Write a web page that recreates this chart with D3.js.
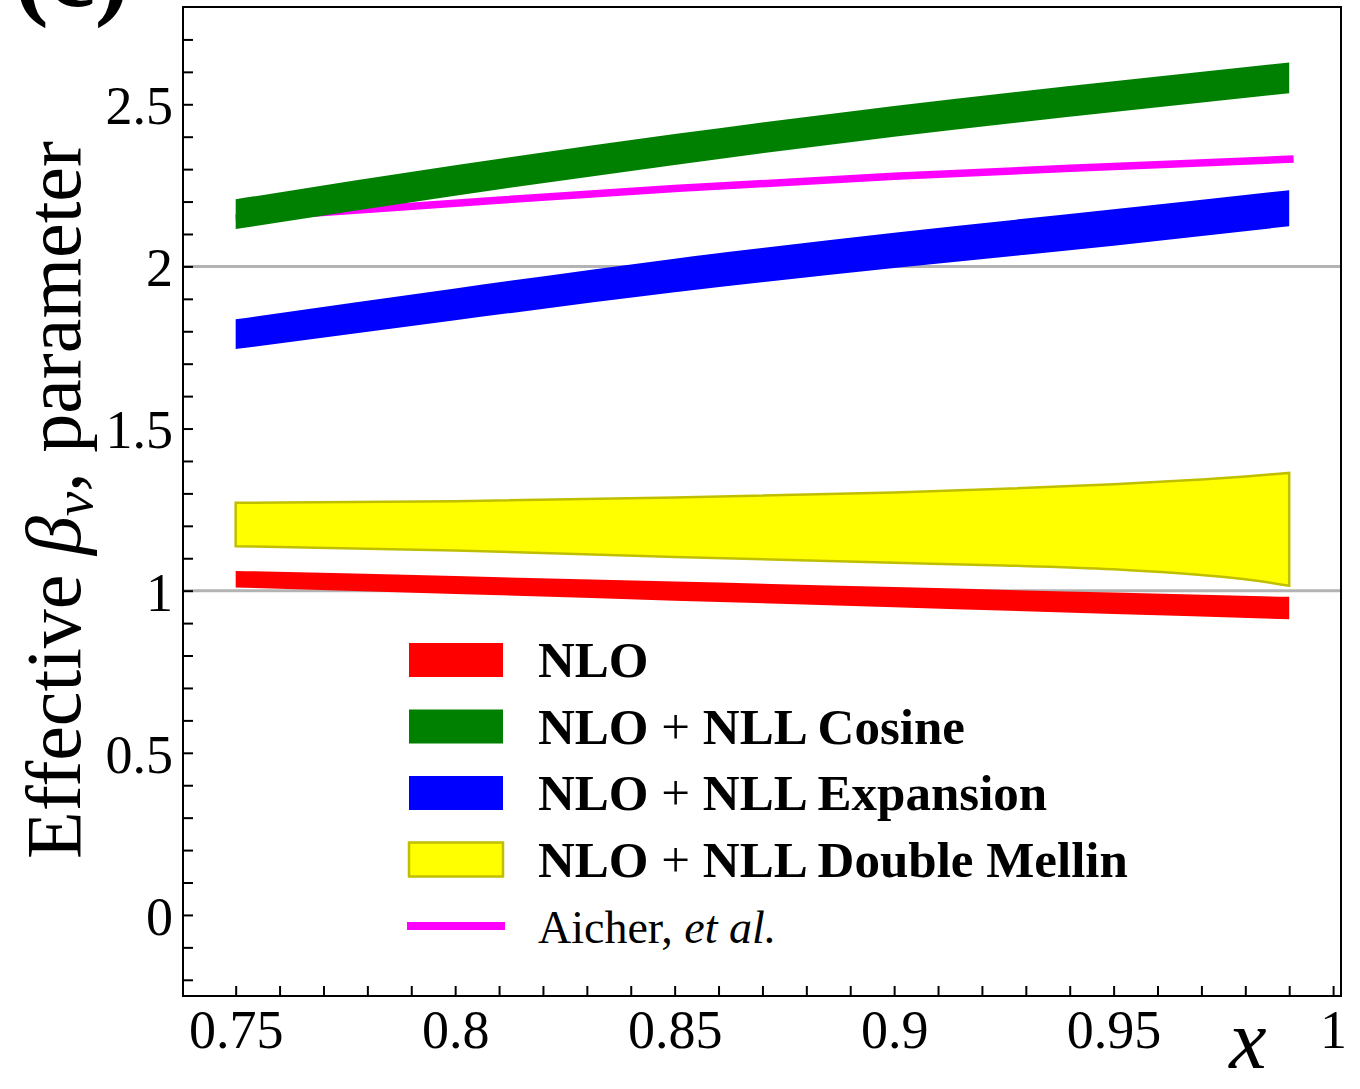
<!doctype html>
<html>
<head>
<meta charset="utf-8">
<style>
  body { margin: 0; background: #fff; }
  text { font-family: "Liberation Serif", "Times New Roman", serif; }
  .tick-label text { font-size: 54px; fill: #000; }
  .legend text { font-size: 51px; font-weight: bold; }
</style>
<script src="https://d3js.org/d3.v7.min.js"></script>
</head>
<body>
<svg id="svg" width="1360" height="1089"></svg>
<script>
// band x grid and bounds
var xBand = [0.75, 0.8, 0.85, 0.9, 0.95, 0.99];
var nloLo = [1.010, 0.990, 0.969, 0.949, 0.928, 0.912];
var nloHi = [1.061, 1.045, 1.028, 1.011, 0.994, 0.981];
var cosLo = [2.115, 2.218, 2.313, 2.400, 2.476, 2.534];
var cosHi = [2.207, 2.312, 2.408, 2.495, 2.571, 2.629];
var expLo = [1.745, 1.834, 1.920, 1.995, 2.064, 2.124];
var expHi = [1.837, 1.932, 2.024, 2.104, 2.176, 2.235];

var xMellin = [0.75, 0.8, 0.85, 0.9, 0.925, 0.95, 0.97, 0.98, 0.99];
var melLo = [1.137, 1.124, 1.104, 1.086, 1.078, 1.066, 1.048, 1.035, 1.015];
var melHi = [1.271, 1.276, 1.287, 1.303, 1.314, 1.328, 1.343, 1.352, 1.363];

var xAicher = [0.75, 0.8, 0.85, 0.9, 0.95, 0.991];
var aicher = [2.148, 2.195, 2.240, 2.278, 2.308, 2.331];

var refLines = [1, 2];

var xTicks = [0.75, 0.8, 0.85, 0.9, 0.95, 1];
var xTickLabels = ["0.75", "0.8", "0.85", "0.9", "0.95", "1"];
var yTicks = [0, 0.5, 1, 1.5, 2, 2.5];
var yTickLabels = ["0", "0.5", "1", "1.5", "2", "2.5"];

var legendLabels = ["NLO", "NLO + NLL Cosine", "NLO + NLL Expansion", "NLO + NLL Double Mellin", "Aicher, et al."];

var svg = d3.select("#svg"),
    margin = {left: 183, top: 7, right: 19, bottom: 93},
    width = +svg.attr("width") - margin.left - margin.right,
    height = +svg.attr("height") - margin.top - margin.bottom;

var x = d3.scaleLinear().domain([0.738, 1.0018]).range([0, width]),
    y = d3.scaleLinear().domain([-0.25, 2.8]).range([height, 0]);

var g = svg.append("g")
    .attr("transform", "translate(" + margin.left + "," + margin.top + ")");

// panel letter, cut off at the top edge like in the original
svg.append("text")
    .attr("x", 14).attr("y", 6)
    .style("font-size", "104px").style("font-weight", "bold")
    .text("(c)");

// grey reference lines
g.selectAll(".ref")
    .data(refLines)
    .enter().append("line")
    .attr("x1", 0).attr("x2", width)
    .attr("y1", function(d) { return y(d); })
    .attr("y2", function(d) { return y(d); })
    .attr("stroke", "#b3b3b3").attr("stroke-width", 3);

function band(xs, lo, hi) {
    return xs.map(function(d, i) { return {x: d, lo: lo[i], hi: hi[i]}; });
}

var area = d3.area()
    .curve(d3.curveMonotoneX)
    .x(function(d) { return x(d.x); })
    .y0(function(d) { return y(d.lo); })
    .y1(function(d) { return y(d.hi); });

var line = d3.line()
    .curve(d3.curveMonotoneX)
    .x(function(d) { return x(d[0]); })
    .y(function(d) { return y(d[1]); });

// Aicher et al. line goes under the bands
g.append("path")
    .datum(d3.zip(xAicher, aicher))
    .attr("d", line)
    .attr("fill", "none").attr("stroke", "#ff00ff").attr("stroke-width", 7.5);

g.append("path").datum(band(xBand, nloLo, nloHi)).attr("d", area).attr("fill", "#ff0000");
g.append("path").datum(band(xMellin, melLo, melHi)).attr("d", area)
    .attr("fill", "#ffff00").attr("stroke", "#bfbf00").attr("stroke-width", 2.5);
g.append("path").datum(band(xBand, cosLo, cosHi)).attr("d", area).attr("fill", "#008000");
g.append("path").datum(band(xBand, expLo, expHi)).attr("d", area).attr("fill", "#0000ff");

// ticks (inward, minor and major same length)
var xMinor = d3.range(75, 101).map(function(d) { return d / 100; });
var yMinor = d3.range(-2, 28).map(function(d) { return d / 10; });

g.append("g")
    .attr("transform", "translate(0," + height + ")")
    .call(d3.axisBottom(x).tickValues(xMinor).tickSize(-10).tickFormat(""))
    .call(function(s) { s.select(".domain").remove(); s.selectAll("line").attr("stroke-width", 2); });

g.append("g")
    .call(d3.axisLeft(y).tickValues(yMinor).tickSize(-10).tickFormat(""))
    .call(function(s) { s.select(".domain").remove(); s.selectAll("line").attr("stroke-width", 2); });

g.append("g")
    .attr("class", "tick-label")
    .attr("transform", "translate(0," + height + ")")
    .call(d3.axisBottom(x).tickValues(xTicks).tickSize(0).tickPadding(14)
        .tickFormat(function(d, i) { return xTickLabels[i]; }))
    .call(function(s) { s.select(".domain").remove(); s.selectAll("text").attr("font-family", null); });

g.append("g")
    .attr("class", "tick-label")
    .call(d3.axisLeft(y).tickValues(yTicks).tickSize(0).tickPadding(10)
        .tickFormat(function(d, i) { return yTickLabels[i]; }))
    .call(function(s) {
        s.select(".domain").remove();
        s.selectAll("text").attr("font-family", null).attr("dy", "0.36em");
    });

// frame
g.append("rect")
    .attr("width", width).attr("height", height)
    .attr("fill", "none").attr("stroke", "#000").attr("stroke-width", 2);

// axis titles
var yl = svg.append("text")
    .attr("transform", "translate(80,500) rotate(-90)")
    .attr("text-anchor", "middle")
    .style("font-size", "78px");
yl.append("tspan").text("Effective ");
yl.append("tspan").style("font-style", "italic").text("β");
yl.append("tspan").style("font-style", "italic").style("font-size", "55px").attr("dy", 12).text("v");
yl.append("tspan").attr("dy", -12).text(", parameter");

svg.append("text")
    .attr("x", 1248).attr("y", 1068)
    .attr("text-anchor", "middle")
    .style("font-size", "84px").style("font-style", "italic")
    .text("x");

// legend
var lg = svg.append("g").attr("class", "legend").attr("transform", "translate(409,660)");
var legendFill = ["#ff0000", "#008000", "#0000ff", "#ffff00"];
var rowH = 66.5;

legendFill.forEach(function(c, i) {
    lg.append("rect")
        .attr("x", 0).attr("y", i * rowH - 17)
        .attr("width", 94).attr("height", 34)
        .attr("fill", c)
        .attr("stroke", i === 3 ? "#bfbf00" : "none")
        .attr("stroke-width", 2.5);
});
lg.append("line")
    .attr("x1", -2).attr("x2", 96)
    .attr("y1", 4 * rowH).attr("y2", 4 * rowH)
    .attr("stroke", "#ff00ff").attr("stroke-width", 8);

legendLabels.forEach(function(lbl, i) {
    var t = lg.append("text").attr("x", 129).attr("y", i * rowH + 17);
    if (i === 4) {
        t.style("font-weight", "normal").style("font-size", "46px");
        t.append("tspan").text("Aicher, ");
        t.append("tspan").style("font-style", "italic").text("et al.");
    } else {
        var parts = lbl.split(" + ");
        t.append("tspan").text(parts[0]);
        if (parts.length > 1) {
            t.append("tspan").style("font-weight", "normal").text(" + ");
            t.append("tspan").text(parts[1]);
        }
    }
});
</script>
</body>
</html>
